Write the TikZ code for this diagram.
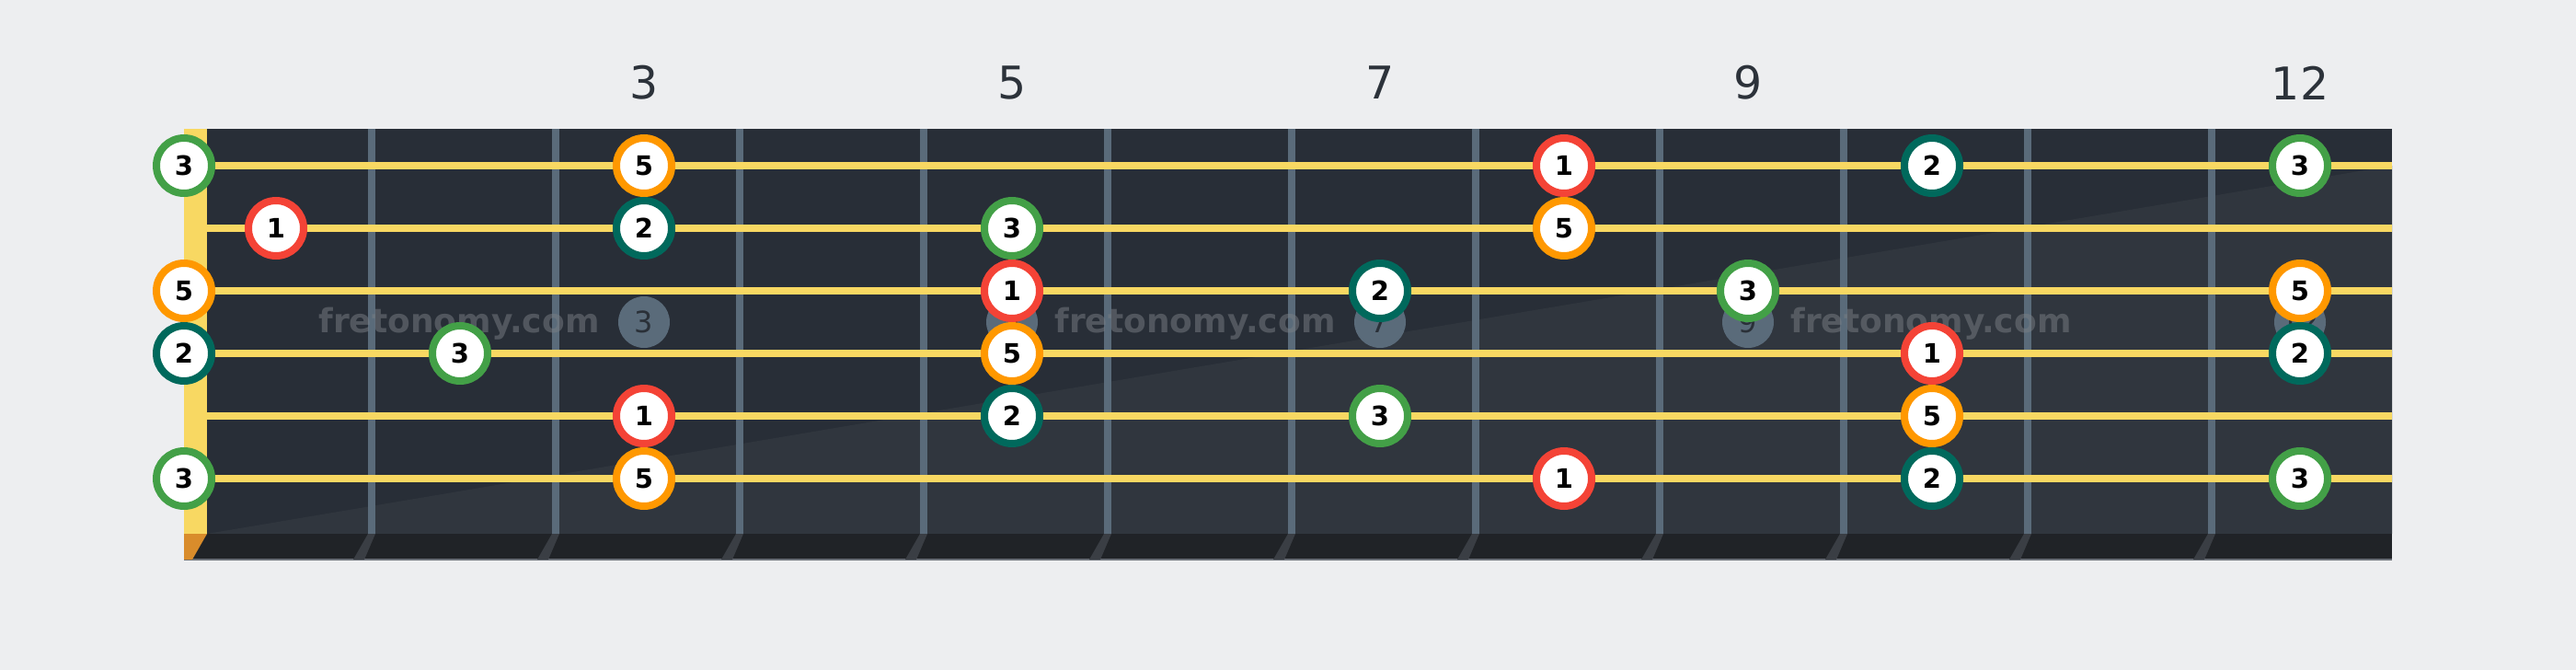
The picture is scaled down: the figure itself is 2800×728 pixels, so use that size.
\documentclass[tikz,border=0pt]{standalone}
\usepackage{fontspec}
\setmainfont{DejaVu Sans}
\definecolor{bgc}{HTML}{EDEEF0}
\definecolor{boardc}{HTML}{282E37}
\definecolor{boardlt}{HTML}{30363E}
\definecolor{stripc}{HTML}{202327}
\definecolor{edgec}{HTML}{6B7078}
\definecolor{fretc}{HTML}{5A6B7A}
\definecolor{shadowc}{HTML}{3A3E44}
\definecolor{stringc}{HTML}{F8D862}
\definecolor{orangenut}{HTML}{D98C2B}
\definecolor{labelc}{HTML}{2C323A}
\definecolor{inlaytext}{HTML}{2A3038}
\definecolor{wmc}{HTML}{7A7F85}
\definecolor{cgreen}{HTML}{43A047}
\definecolor{cred}{HTML}{F44336}
\definecolor{corange}{HTML}{FF9800}
\definecolor{cteal}{HTML}{00695C}
\begin{document}
\begin{tikzpicture}[x=1pt,y=-1pt,
  note/.style={circle,draw=#1,line width=8pt,fill=white,minimum size=60pt,inner sep=0pt,
    font=\fontsize{29}{29}\selectfont\bfseries,text=black},
  fretnum/.style={font=\fontsize{49}{49}\selectfont,text=labelc,inner sep=0pt},
  inlay/.style={circle,fill=fretc,minimum size=56pt,inner sep=0pt,
    font=\fontsize{32}{32}\selectfont,text=inlaytext},
  wmark/.style={font=\fontsize{36}{36}\selectfont\bfseries,text=wmc,text opacity=0.5,inner sep=0pt}]
\useasboundingbox (0,0) rectangle (2800,728);
\fill[bgc] (0,0) rectangle (2800,728);
% board
\fill[boardc] (225,140) rectangle (2600,580);
\fill[boardlt] (225,580) -- (2600,180) -- (2600,580) -- cycle;
\fill[stripc] (200,580) rectangle (2600,608);
\draw[line width=1.5pt,edgec] (200,608) -- (2600,608);
\fill[stringc] (200,140) rectangle (225,580);
\fill[orangenut] (200,580) -- (225,580) -- (209,608) -- (200,608) -- cycle;
% frets
\foreach \x in {400,600,...,2400} {
  \fill[fretc] (\x,140) rectangle (\x+8,580);
  \fill[shadowc] (\x,580) -- (\x+8,580) -- (\x-4,608) -- (\x-16,608) -- cycle;
}
% fret numbers
\node[fretnum] (l3) at (700,90) {3};
\node[fretnum] (l5) at (1100,90) {5};
\node[fretnum] (l7) at (1500,90) {7};
\node[fretnum] (l9) at (1900,90) {9};
\node[fretnum] (l12) at (2500,90) {12};
% inlays
\node[inlay] (i3) at (700,350) {3};
\node[inlay] (i5) at (1100,350) {5};
\node[inlay] (i7) at (1500,350) {7};
\node[inlay] (i9) at (1900,350) {9};
\node[inlay] (i12) at (2500,350) {12};
% watermarks
\node[wmark] (w1) at (499,352) {fretonomy.com};
\node[wmark] (w2) at (1299,352) {fretonomy.com};
\node[wmark] (w3) at (2099,352) {fretonomy.com};
% strings
\foreach \y in {180,248,316,384,452,520} {
  \fill[stringc] (225,\y-4) rectangle (2600,\y+4);
}
% notes: string 1
\node[note=cgreen]  (s1f0)  at (200,180) {3};
\node[note=corange] (s1f3)  at (700,180) {5};
\node[note=cred]    (s1f8)  at (1700,180) {1};
\node[note=cteal]   (s1f10) at (2100,180) {2};
\node[note=cgreen]  (s1f12) at (2500,180) {3};
% string 2
\node[note=cred]    (s2f1)  at (300,248) {1};
\node[note=cteal]   (s2f3)  at (700,248) {2};
\node[note=cgreen]  (s2f5)  at (1100,248) {3};
\node[note=corange] (s2f8)  at (1700,248) {5};
% string 3
\node[note=corange] (s3f0)  at (200,316) {5};
\node[note=cred]    (s3f5)  at (1100,316) {1};
\node[note=cteal]   (s3f7)  at (1500,316) {2};
\node[note=cgreen]  (s3f9)  at (1900,316) {3};
\node[note=corange] (s3f12) at (2500,316) {5};
% string 4
\node[note=cteal]   (s4f0)  at (200,384) {2};
\node[note=cgreen]  (s4f2)  at (500,384) {3};
\node[note=corange] (s4f5)  at (1100,384) {5};
\node[note=cred]    (s4f10) at (2100,384) {1};
\node[note=cteal]   (s4f12) at (2500,384) {2};
% string 5
\node[note=cred]    (s5f3)  at (700,452) {1};
\node[note=cteal]   (s5f5)  at (1100,452) {2};
\node[note=cgreen]  (s5f7)  at (1500,452) {3};
\node[note=corange] (s5f10) at (2100,452) {5};
% string 6
\node[note=cgreen]  (s6f0)  at (200,520) {3};
\node[note=corange] (s6f3)  at (700,520) {5};
\node[note=cred]    (s6f8)  at (1700,520) {1};
\node[note=cteal]   (s6f10) at (2100,520) {2};
\node[note=cgreen]  (s6f12) at (2500,520) {3};
\end{tikzpicture}
\end{document}
